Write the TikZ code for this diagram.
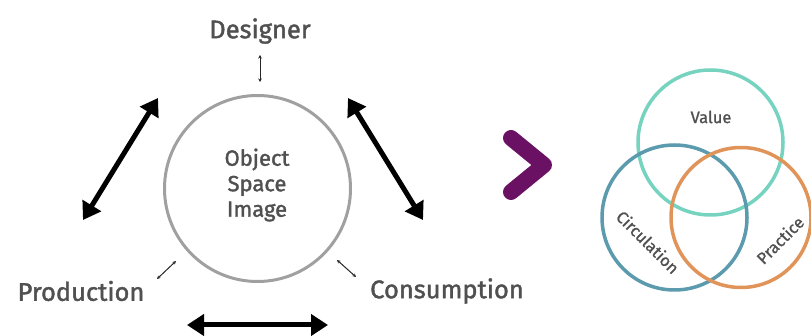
\documentclass[tikz,border=0pt]{standalone}
\usepackage{fontspec}
\setmainfont{Fira Sans}[FakeBold=1.6]
\newfontfamily\vennfont{Fira Sans}[FakeBold=1.0]
\usetikzlibrary{arrows.meta}
\definecolor{txtgray}{HTML}{505050}
\definecolor{ringgray}{HTML}{A0A0A0}
\definecolor{plum}{HTML}{6B1163}
\definecolor{valuec}{HTML}{76D3C0}
\definecolor{circc}{HTML}{5B9BAD}
\definecolor{pracc}{HTML}{E0945A}
\tikzset{
  label text/.style={text=txtgray, font=\fontsize{25.5}{28}\selectfont, inner sep=0pt},
  venn label/.style={text=txtgray, font=\vennfont\fontsize{16.5}{18}\selectfont, inner sep=0pt},
  bigarrow/.style={line width=5pt, {Triangle[length=17pt,width=21pt]}-{Triangle[length=17pt,width=21pt]}},
  thinarrow/.style={line width=1pt, draw=black!85, {Stealth[length=3.5pt,width=3.5pt]}-{Stealth[length=3.5pt,width=3.5pt]}},
  ring/.style={circle, line width=3.5pt, minimum size=#1, inner sep=0pt}
}
\begin{document}
\begin{tikzpicture}[x=1pt, y=-1pt]
\useasboundingbox (0,0) rectangle (811,336);

% central circle
\node[circle, draw=ringgray, line width=3pt, minimum size=186pt, inner sep=0pt] (core) at (257.5,188.5) {};
\node[text=txtgray, font=\fontsize{22}{25.5}\selectfont, align=center, inner sep=0pt] (coretxt) at (257,185) {Object\\Space\\Image};

% three stakeholders
\node[label text] (designer) at (260,31) {Designer};
\node[label text] (production) at (81,291) {Production};
\node[label text] (consumption) at (447,291) {Consumption};

% thin links between the stakeholders and the circle
\coordinate (d1) at (260,55);
\coordinate (d2) at (260,82);
\coordinate (p1) at (157,279);
\coordinate (p2) at (176,261);
\coordinate (c1) at (337,260);
\coordinate (c2) at (356,277);
\draw[thinarrow] (d1) -- (d2);
\draw[thinarrow] (p1) -- (p2);
\draw[thinarrow] (c1) -- (c2);

% heavy arrows between the stakeholders
\coordinate (la) at (83,220);
\coordinate (lb) at (158,98);
\coordinate (ra) at (348,98);
\coordinate (rb) at (423,220);
\coordinate (ba) at (187,325);
\coordinate (bb) at (328,325);
\draw[bigarrow] (la) -- (lb);
\draw[bigarrow] (ra) -- (rb);
\draw[bigarrow] (ba) -- (bb);

% chevron
\coordinate (v1) at (511,138);
\coordinate (v2) at (544,165);
\coordinate (v3) at (511,192);
\draw[plum, line width=16pt, line cap=round, line join=round] (v1) -- (v2) -- (v3);

% three overlapping rings
\node[ring=145pt, draw=valuec] (value) at (710.5,142.5) {};
\node[ring=145pt, draw=circc] (circulation) at (674.5,217.5) {};
\node[ring=140pt, draw=pracc] (practice) at (741,217.5) {};
\node[venn label] at (711,117) {Value};
\node[venn label, rotate=-45] at (648,242) {Circulation};
\node[venn label, rotate=45] at (780,240) {Practice};
\end{tikzpicture}
\end{document}
